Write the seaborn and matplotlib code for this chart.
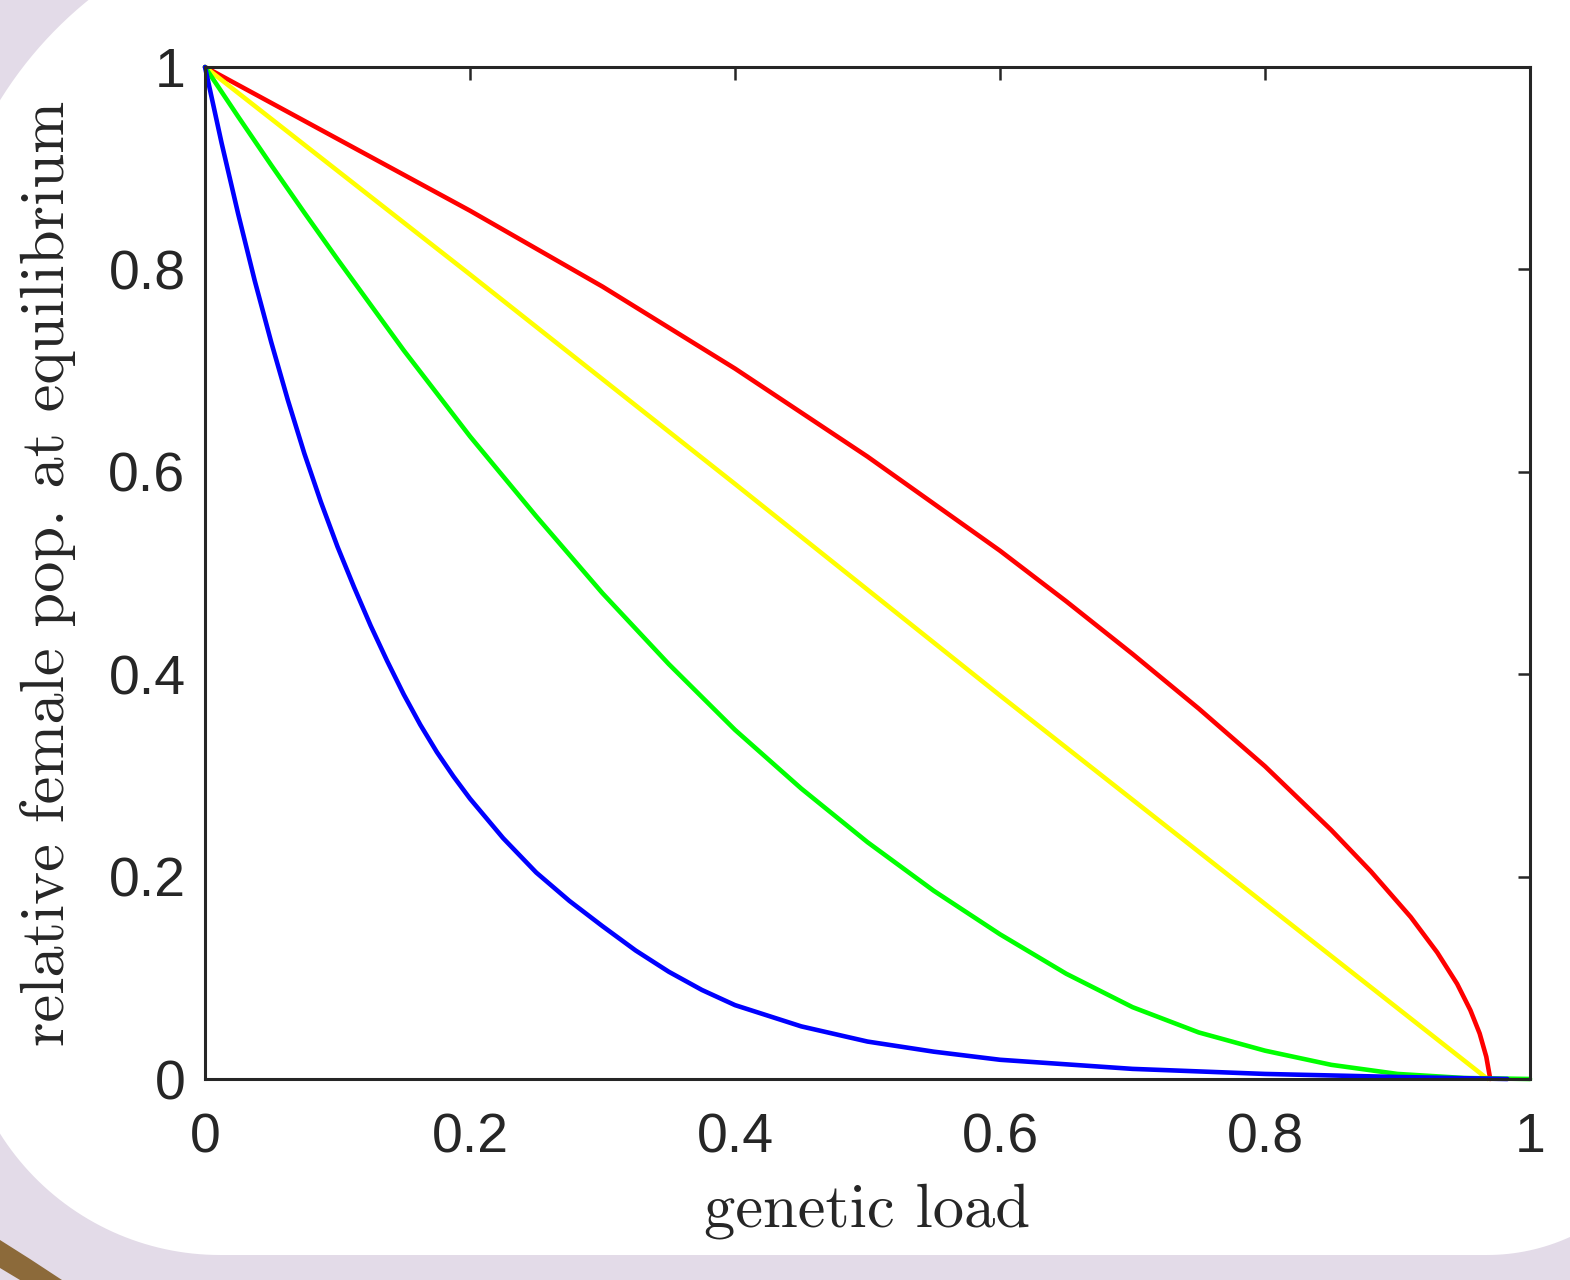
import numpy as np
import matplotlib
matplotlib.use("Agg")
import matplotlib.pyplot as plt
from matplotlib.patches import Polygon
import seaborn as sns

# --- data ---
red_x = [0, 0.1, 0.2, 0.3, 0.4, 0.5, 0.6, 0.65, 0.7, 0.75, 0.8, 0.85, 0.88, 0.91, 0.93, 0.945, 0.955, 0.962, 0.967, 0.970]
red_y = [1, 0.929, 0.858, 0.783, 0.702, 0.615, 0.522, 0.472, 0.420, 0.366, 0.309, 0.246, 0.205, 0.160, 0.125, 0.094, 0.068, 0.045, 0.022, 0]

yellow_x = [0, 0.2, 0.4, 0.6, 0.8, 0.968]
yellow_y = [1, 0.795, 0.588, 0.379, 0.173, 0]

green_x = [0, 0.025, 0.05, 0.075, 0.1, 0.125, 0.15, 0.2, 0.25, 0.3, 0.35, 0.4, 0.45, 0.5, 0.55, 0.6, 0.65, 0.7, 0.75, 0.8, 0.85, 0.9, 0.95, 1.0]
green_y = [1, 0.951, 0.903, 0.856, 0.810, 0.765, 0.720, 0.635, 0.556, 0.480, 0.410, 0.345, 0.287, 0.234, 0.186, 0.143, 0.104, 0.071, 0.046, 0.028, 0.014, 0.005, 0.001, 0]

blue_x = [0, 0.0125, 0.025, 0.0375, 0.05, 0.0625, 0.075, 0.0875, 0.1, 0.1125, 0.125, 0.1375, 0.15, 0.1625,
          0.175, 0.1875, 0.2, 0.225, 0.25, 0.275, 0.3, 0.325, 0.35, 0.375, 0.4, 0.45, 0.5, 0.55, 0.6, 0.7, 0.8, 0.9, 0.983]
blue_y = [1, 0.925, 0.855, 0.789, 0.728, 0.671, 0.618, 0.570, 0.526, 0.486, 0.448, 0.413, 0.380, 0.350,
          0.323, 0.299, 0.277, 0.238, 0.204, 0.176, 0.151, 0.127, 0.106, 0.088, 0.073, 0.052, 0.037, 0.027, 0.019, 0.010, 0.005, 0.002, 0]

x_ticks = [0, 0.2, 0.4, 0.6, 0.8, 1]
x_tick_labels = ["0", "0.2", "0.4", "0.6", "0.8", "1"]
y_ticks = [0, 0.2, 0.4, 0.6, 0.8, 1]
y_tick_labels = ["0", "0.2", "0.4", "0.6", "0.8", "1"]

sns.set_theme(style="white")
plt.rcParams['font.family'] = ['Liberation Sans', 'DejaVu Sans']

W, H = 1570, 1280
fig = plt.figure(figsize=(W / 100, H / 100), dpi=100)
fig.patch.set_facecolor("#e3dbe8")

# slide background: white rounded card + brown stroke
bg = fig.add_axes([0, 0, 1, 1], zorder=-5)
bg.set_xlim(0, W)
bg.set_ylim(H, 0)
bg.axis("off")

def arc(cx, cy, r, a0, a1, n=60):
    t = np.radians(np.linspace(a0, a1, n))
    return np.column_stack([cx + r * np.cos(t), cy + r * np.sin(t)])

card = np.vstack([
    arc(340, 311, 400, 180, 270),     # top-left (y axis points down)
    [[1700, -100]],
    arc(1487, 1055, 200, 0, 90),      # bottom-right
    arc(220, 995, 260, 90, 180),      # bottom-left
])
bg.add_patch(Polygon(card, closed=True, facecolor="white", edgecolor="none"))
bg.add_patch(Polygon([(0, 1240), (30, 1259), (62, 1280), (20, 1280), (0, 1268)],
                     closed=True, facecolor="#8c6a3a", edgecolor="none"))

ax = fig.add_axes([205 / W, 1 - 1079 / H, 1325 / W, 1012 / H])
ax.set_facecolor("white")

for xs, ys, col in [(red_x, red_y, "#ff0000"), (yellow_x, yellow_y, "#ffff00"),
                    (green_x, green_y, "#00ff00"), (blue_x, blue_y, "#0000ff")]:
    sns.lineplot(x=xs, y=ys, color=col, ax=ax, clip_on=False)
for line in ax.lines:
    line.set_linewidth(3.3)
    line.set_solid_joinstyle("round")

ax.set_xlim(0, 1)
ax.set_ylim(0, 1)
ax.set_xticks(x_ticks)
ax.set_xticklabels(x_tick_labels)
ax.set_yticks(y_ticks)
ax.set_yticklabels(y_tick_labels)

for s in ax.spines.values():
    s.set_color("#262626")
    s.set_linewidth(2.2)
ax.tick_params(axis="both", direction="in", top=True, right=True,
               length=9, width=1.8, color="#262626", labelcolor="#262626", labelsize=40)
ax.tick_params(axis="x", pad=24)
ax.tick_params(axis="y", pad=14)

ax.set_xlabel("genetic load", fontfamily="cmr10", fontsize=45, color="#262626")
ax.set_ylabel("relative female pop. at equilibrium", fontfamily="cmr10", fontsize=45, color="#262626")
ax.xaxis.set_label_coords(0.5, -0.103)
ax.yaxis.set_label_coords(-0.097, 0.5)

fig.savefig("out.png", dpi=100, facecolor=fig.get_facecolor())
